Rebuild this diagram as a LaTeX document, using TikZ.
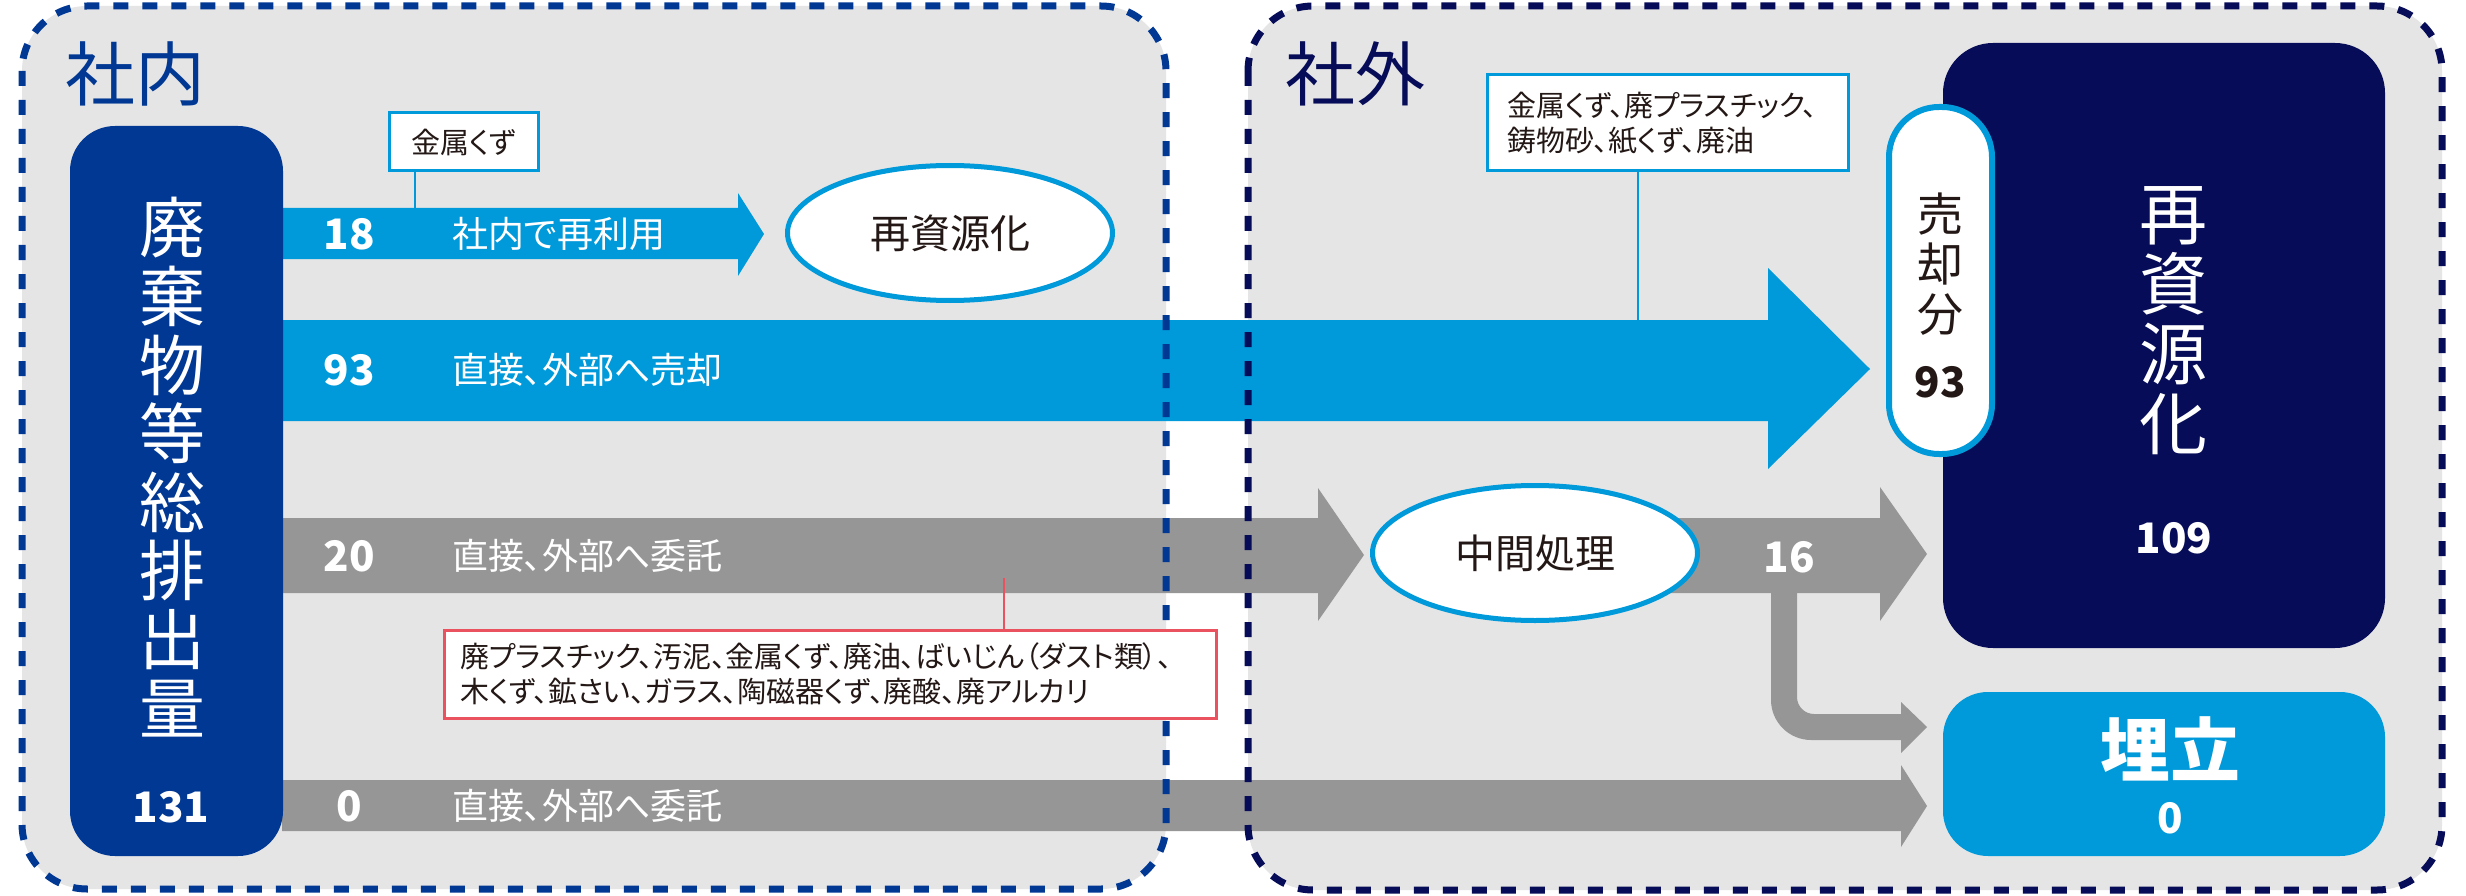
\documentclass[tikz,border=0pt]{standalone}
\usepackage{fontspec}
\setmainfont{Noto Sans CJK JP}[RawFeature=+palt]
\usetikzlibrary{shapes.geometric,calc}
\definecolor{cRegion}{HTML}{E5E5E5}
\definecolor{cInBlue}{HTML}{003893}
\definecolor{cNavy}{HTML}{060C57}
\definecolor{cFlowBlue}{HTML}{0099D9}
\definecolor{cFlowGray}{HTML}{969696}
\definecolor{cDark}{HTML}{231815}
\definecolor{cRed}{HTML}{E9525E}
\begin{document}
\begin{tikzpicture}[x=1pt,y=-1pt,
  region/.style={rectangle,rounded corners=65pt,fill=cRegion,inner sep=0,outer sep=0},
  regionborder/.style={line width=7pt,dash pattern=on 15pt off 14pt,rounded corners=65pt},
  blockblue/.style={fill=cFlowBlue},
  blockgray/.style={fill=cFlowGray},
  numlabel/.style={font=\fontsize{42}{42}\selectfont\bfseries,text=white,inner sep=0},
  flowtext/.style={font=\fontsize{36}{36}\selectfont,text=white,anchor=west,inner sep=0},
  stack/.style={align=center,inner sep=0},
  ovalbox/.style={ellipse,draw=cFlowBlue,line width=5pt,fill=white,minimum width=325pt,minimum height=135pt,inner sep=0,font=\fontsize{40}{40}\selectfont,text=cDark},
  note/.style={draw=cFlowBlue,line width=3pt,fill=white,font=\fontsize{29}{35}\selectfont,text=cDark},
  leader/.style={draw=cFlowBlue,line width=2pt},
  panel/.style={rectangle,inner sep=0,outer sep=0},
]
\useasboundingbox (0,0) rectangle (2466,896);
\fill[white] (0,0) rectangle (2466,896);

% regions
\node[region,minimum width=1144pt,minimum height=883pt] (inregion) at (594,447.5) {};
\node[region,minimum width=1194pt,minimum height=884pt] (outregion) at (1845,448) {};

% block arrows
\fill[blockblue] (282,208) -- (738,208) -- (738,193) -- (764,234) -- (738,276) -- (738,259) -- (282,259) -- cycle;
\fill[blockblue] (282,320) -- (1768,320) -- (1768,268) -- (1870,369) -- (1768,469) -- (1768,421) -- (282,421) -- cycle;
\fill[blockgray] (282,518) -- (1318,518) -- (1318,488) -- (1364,555) -- (1318,621) -- (1318,593) -- (282,593) -- cycle;
\fill[blockgray] (1600,518) -- (1880,518) -- (1880,487) -- (1927,554) -- (1880,621) -- (1880,593) -- (1600,593) -- cycle;
\fill[blockgray] (1771,590) -- (1771,700) .. controls (1771,722) and (1789,740) .. (1811,740) -- (1901,740) -- (1901,753) -- (1927,727) -- (1901,702) -- (1901,714) -- (1814,714) .. controls (1804.6,714) and (1797,706.4) .. (1797,697) -- (1797,590) -- cycle;
\fill[blockgray] (282,780) -- (1901,780) -- (1901,765) -- (1927,806) -- (1901,847) -- (1901,831) -- (282,831) -- cycle;

% dashed borders
\draw[regionborder,draw=cInBlue] (inregion.north west) rectangle (inregion.south east);
\draw[regionborder,draw=cNavy] (outregion.north west) rectangle (outregion.south east);

% titles
\node[font=\fontsize{70}{70}\selectfont,text=cInBlue,inner sep=0] (intitle) at (135,74) {社内};
\node[font=\fontsize{70}{70}\selectfont,text=cNavy,inner sep=0] (outtitle) at (1355,74) {社外};

% source box
\node[panel,rounded corners=45pt,fill=cInBlue,minimum width=213pt,minimum height=730pt] (src) at (176.5,491) {};
\node[stack,text=white,font=\fontsize{66}{68.6}\selectfont] (srclabel) at (172,467) {廃\\棄\\物\\等\\総\\排\\出\\量};
\node[numlabel] (srcnum) at (171,807) {131};

% flow labels
\node[numlabel] (n18) at (349,234) {18};
\node[flowtext] (t18) at (452,234) {社内で再利用};
\node[numlabel] (n93) at (349,370) {93};
\node[flowtext] (t93) at (452,370) {直接、外部へ売却};
\node[numlabel] (n20) at (349,556) {20};
\node[flowtext] (t20) at (452,556) {直接、外部へ委託};
\node[numlabel] (n0) at (349,806) {0};
\node[flowtext] (t0) at (452,806) {直接、外部へ委託};
\node[numlabel] (n16) at (1789,557) {16};

% ellipses
\node[ovalbox] (reuse) at (950,233) {再資源化};
\node[ovalbox] (mid) at (1535,553) {中間処理};

% destination boxes
\node[panel,rounded corners=50pt,fill=cNavy,minimum width=442pt,minimum height=605pt] (recyc) at (2164,345.5) {};
\node[stack,text=white,font=\fontsize{68}{70}\selectfont] (recyclabel) at (2173,321) {再\\資\\源\\化};
\node[numlabel] (recycnum) at (2174,538) {109};
\node[panel,rounded corners=45pt,fill=cFlowBlue,minimum width=442pt,minimum height=164pt] (landfill) at (2164,774) {};
\node[text=white,font=\fontsize{70}{70}\selectfont\bfseries,inner sep=0] (landlabel) at (2170,749) {埋立};
\node[numlabel] (landnum) at (2170,818) {0};

% sold pill
\node[panel,draw=cFlowBlue,line width=6pt,fill=white,rounded corners=50pt,minimum width=103pt,minimum height=347pt] (sold) at (1940.5,280.5) {};
\node[stack,text=cDark,font=\fontsize{46}{50}\selectfont] (soldlabel) at (1940,264) {売\\却\\分};
\node[numlabel,text=cDark] (soldnum) at (1940,382) {93};

% notes and leaders
\node[note,minimum width=149pt,minimum height=58pt,inner sep=0] (note1) at (463.5,142) {金属くず};
\coordinate (n1end) at (415,208);
\draw[leader] (note1.south -| n1end) -- (n1end);

\node[note,text width=321pt,inner xsep=20pt,inner ysep=0pt,minimum height=96pt,align=left] (note2) at (1667.5,123) {金属くず、廃プラスチック、\\鋳物砂、紙くず、廃油};
\coordinate (n2end) at (1638,320);
\draw[leader] (note2.south -| n2end) -- (n2end);

\node[note,draw=cRed,text width=740pt,inner xsep=16pt,inner ysep=0pt,minimum height=88pt,align=left] (note3) at (830,674) {廃プラスチック、汚泥、金属くず、廃油、ばいじん（ダスト類）、\\木くず、鉱さい、ガラス、陶磁器くず、廃酸、廃アルカリ};
\coordinate (n3end) at (1004,578);
\draw[leader,draw=cRed] (note3.north -| n3end) -- (n3end);
\end{tikzpicture}
\end{document}
